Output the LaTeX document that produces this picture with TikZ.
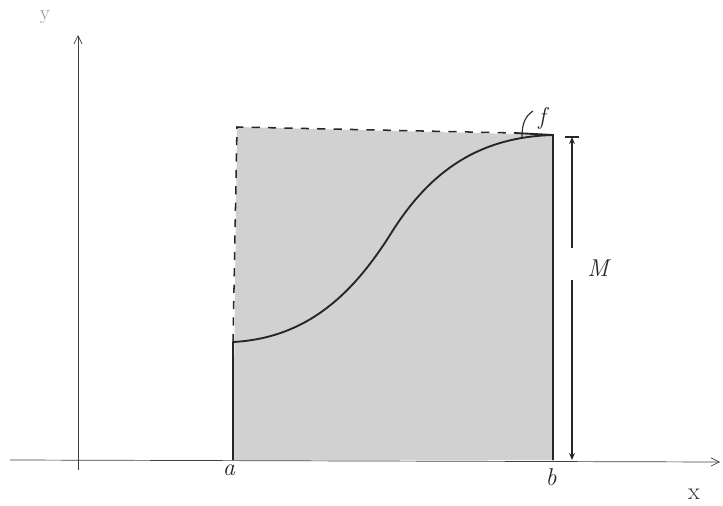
\documentclass[tikz,border=0pt]{standalone}
\usetikzlibrary{arrows.meta}
\begin{document}
\begin{tikzpicture}[x=0.03cm,y=-0.03cm,
  axis/.style={line width=0.6pt,draw=black!75,-{Straight Barb[length=7pt,width=7pt]}},
  edge/.style={line width=1.6pt,draw=black!85},
  dashedge/.style={line width=1.3pt,draw=black!85,dash pattern=on 7pt off 7pt},
  curve/.style={line width=1.6pt,draw=black!85},
  lbl/.style={font=\huge\itshape,text=black!85},
  dim/.style={line width=1pt,draw=black!85}]
\useasboundingbox (0,0) rectangle (723,506);
% coordinates
\coordinate (O) at (78,460);
\coordinate (xl) at (10,460);
\coordinate (xr) at (720,462);
\coordinate (yb) at (78,470);
\coordinate (yt) at (78,35);
\coordinate (A) at (233,460);
\coordinate (B) at (553,460);
\coordinate (Aw) at (233,342);
\coordinate (At) at (237,127);
\coordinate (Bt) at (553,135);
\coordinate (Tm) at (515,133);
\coordinate (Mid) at (390,235);
\coordinate (Mt) at (572,137);
\coordinate (Mb) at (572,460);
\coordinate (Mg1) at (572,248);
\coordinate (Mg2) at (572,280);
% shading
\fill[black!18] (A) -- (At) -- (Bt) -- (B) -- cycle;
% axes
\draw[axis] (xl) -- (xr);
\draw[axis] (yb) -- (yt);
% rectangle edges
\draw[edge] (A) -- (Aw);
\draw[dashedge] (Aw) -- (At) -- (Tm);
\draw[edge] (Tm) -- (Bt) -- (B);
% curve
\draw[curve] (Aw) .. controls (310,338) and (355,290) .. (Mid)
  .. controls (430,170) and (480,137) .. (Bt);
% dimension M
\draw[dim,-{Stealth[length=6pt,width=5pt]}] (Mg1) -- (Mt);
\draw[dim,-{Stealth[length=6pt,width=5pt]}] (Mg2) -- (Mb);
\draw[dim] (565,137) -- (579,137);
\node[lbl] (M) at (598,268) {M};
% f label with pointer
\node[lbl] (f) at (542,118) {f};
\draw[line width=1pt,draw=black!80] (522,137) .. controls (522,122) and (526,116) .. (533,111);
% labels
\node[lbl] (a) at (229,470) {a};
\node[lbl] (b) at (551,477) {b};
\node[font=\huge,text=black!80] (x) at (694,494) {x};
\node[font=\LARGE,text=black!45] (y) at (45,17) {y};
\end{tikzpicture}
\end{document}
